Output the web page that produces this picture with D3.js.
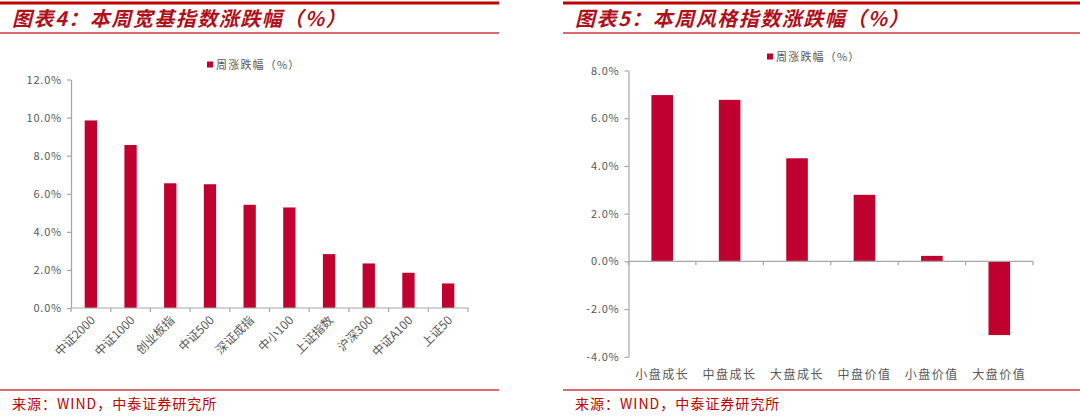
<!DOCTYPE html>
<html><head><meta charset="utf-8">
<script src="https://cdn.jsdelivr.net/npm/d3@7"></script>
<style>body{margin:0;background:#fff} svg{display:block}</style>
</head><body><svg id="c" width="1080" height="416"></svg>
<script>
const broadCategories = ["中证2000","中证1000","创业板指","中证500","深证成指","中小100","上证指数","沪深300","中证A100","上证50"];
const broadValues = [9.85, 8.56, 6.55, 6.50, 5.42, 5.28, 2.83, 2.34, 1.85, 1.29];
const broadTicks = [0, 2, 4, 6, 8, 10, 12];
const styleCategories = ["小盘成长","中盘成长","大盘成长","中盘价值","小盘价值","大盘价值"];
const styleValues = [6.97, 6.77, 4.32, 2.79, 0.23, -3.09];
const styleTicks = [-4, -2, 0, 2, 4, 6, 8];
const legendLabel = "周涨跌幅（%）";
const titles = ["图表4：本周宽基指数涨跌幅（%）", "图表5：本周风格指数涨跌幅（%）"];
const sourceText = "来源：WIND，中泰证券研究所";

const svg = d3.select("#c");
const RED = "#C00000", BAR = "#C0002F", AXIS = "#A6A6A6", TXT = "#595959";
const CJK = "'Noto Sans CJK SC','Noto Sans',sans-serif";

function frame(x0, x1, title, tx) {
  svg.append("line").attr("x1", x0).attr("x2", x1).attr("y1", 3).attr("y2", 3)
    .attr("stroke", RED).attr("stroke-width", 3);
  svg.append("line").attr("x1", x0).attr("x2", x1).attr("y1", 33).attr("y2", 33)
    .attr("stroke", "#D0383E").attr("stroke-width", 1.3);
  svg.append("text").attr("x", tx).attr("y", 26).text(title)
    .attr("fill", "#B0101A").attr("font-family", CJK).attr("font-weight", "bold")
    .attr("font-style", "italic").attr("font-size", 20).attr("letter-spacing", 1.5);
  svg.append("line").attr("x1", x0).attr("x2", x1).attr("y1", 390).attr("y2", 390)
    .attr("stroke", "#D0383E").attr("stroke-width", 1.3);
  svg.append("text").attr("x", tx).attr("y", 409).text(sourceText)
    .attr("fill", RED).attr("font-family", CJK).attr("font-size", 14).attr("letter-spacing", 1);
}

function chart(o) {
  const g = svg.append("g");
  const y = d3.scaleLinear().domain(o.domain).range(o.yRange);
  const x = d3.scaleBand().domain(o.cats).range(o.xRange)
    .paddingInner(o.pad).paddingOuter(o.pad / 2);

  // y axis
  const ya = g.append("g").attr("transform", `translate(${o.xRange[0]},0)`)
    .call(d3.axisLeft(y).tickValues(o.ticks).tickSize(4).tickSizeOuter(0).tickPadding(5)
      .tickFormat(d => d.toFixed(1) + "%"));
  ya.select(".domain").attr("stroke", AXIS).attr("stroke-width", 1.2);
  ya.selectAll(".tick line").attr("stroke", AXIS).attr("stroke-width", 1.2);
  ya.selectAll(".tick text").attr("fill", TXT).attr("font-family", CJK).attr("font-size", 11)
    .attr("letter-spacing", 0.8);

  // bars
  g.selectAll("rect.bar").data(o.vals).join("rect").attr("class", "bar")
    .attr("x", (d, i) => x(o.cats[i]))
    .attr("width", x.bandwidth())
    .attr("y", d => y(Math.max(0, d)))
    .attr("height", d => Math.abs(y(d) - y(0)))
    .attr("fill", BAR);

  // x axis line and boundary ticks
  const y0 = y(0);
  g.append("line").attr("x1", o.xRange[0]).attr("x2", o.xRange[1])
    .attr("y1", y0).attr("y2", y0).attr("stroke", AXIS).attr("stroke-width", 1.2);
  const bounds = d3.range(o.cats.length + 1).map(i => o.xRange[0] + i * x.step());
  g.selectAll("line.xt").data(bounds).join("line").attr("class", "xt")
    .attr("x1", d => d).attr("x2", d => d).attr("y1", y0).attr("y2", y0 + 4)
    .attr("stroke", AXIS).attr("stroke-width", 1.2);

  // category labels
  if (o.rotate) {
    g.selectAll("text.xl").data(o.cats).join("text").attr("class", "xl")
      .attr("transform", d => `translate(${x(d) + x.bandwidth() / 2 + 5},${y0 + 13}) rotate(-45)`)
      .attr("text-anchor", "end").text(d => d)
      .attr("fill", TXT).attr("font-family", CJK).attr("font-size", 12);
  } else {
    g.selectAll("text.xl").data(o.cats).join("text").attr("class", "xl")
      .attr("x", d => x(d) + x.bandwidth() / 2).attr("y", o.labelY)
      .attr("text-anchor", "middle").text(d => d)
      .attr("fill", TXT).attr("font-family", CJK).attr("font-size", 12)
      .attr("letter-spacing", 1.5);
  }

  // legend
  svg.append("rect").attr("x", o.legend[0]).attr("y", o.legend[1] - 3.5).attr("width", 6).attr("height", 6)
    .attr("fill", BAR);
  svg.append("text").attr("x", o.legend[0] + 9).attr("y", o.legend[1] + 4).text(legendLabel)
    .attr("fill", TXT).attr("font-family", CJK).attr("font-size", 11).attr("letter-spacing", 1.2);
}

frame(0, 499, titles[0], 12);
frame(563, 1080, titles[1], 575);

chart({cats: broadCategories, vals: broadValues, ticks: broadTicks, domain: [0, 12],
  yRange: [308, 79.5], xRange: [71, 468], pad: 0.69, rotate: true, legend: [207, 65]});
chart({cats: styleCategories, vals: styleValues, ticks: styleTicks, domain: [-4, 8],
  yRange: [356.8, 70.5], xRange: [628.5, 1033], pad: 0.68, rotate: false, labelY: 379, legend: [767, 57]});
</script></body></html>
